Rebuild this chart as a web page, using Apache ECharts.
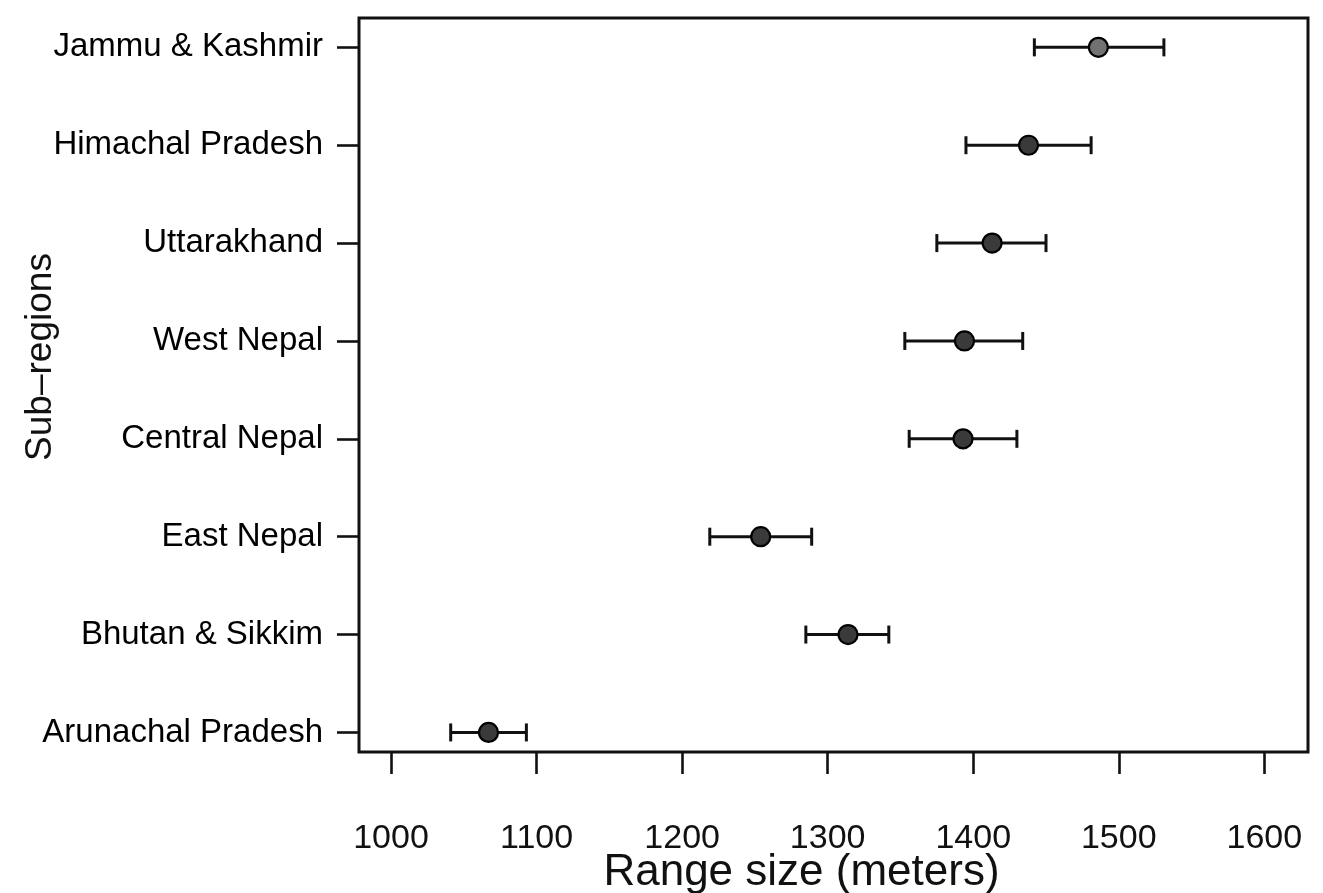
<!DOCTYPE html>
<html>
<head>
<meta charset="utf-8">
<script src="https://cdn.jsdelivr.net/npm/echarts@6/dist/echarts.min.js"></script>
<style>
html,body{margin:0;padding:0;background:#fff;}
#chart{width:1323px;height:893px;}
</style>
</head>
<body>
<div id="chart"></div>
<script>
// Data (bottom to top)
const categories = ['Arunachal Pradesh','Bhutan & Sikkim','East Nepal','Central Nepal','West Nepal','Uttarakhand','Himachal Pradesh','Jammu & Kashmir'];
const means  = [1067, 1314, 1254, 1393, 1394, 1413, 1438, 1486];
const lowers = [1041, 1285, 1219, 1356, 1353, 1375, 1395, 1442];
const uppers = [1093, 1342, 1289, 1430, 1434, 1450, 1481, 1531];
const xTicks = [1000, 1100, 1200, 1300, 1400, 1500, 1600];
const xTitle = 'Range size (meters)';
const yTitle = 'Sub–regions';

const rowPos = categories.map((c, i) => i + 1);
const barData = categories.map((c, i) => [lowers[i], uppers[i], rowPos[i]]);
const dotData = categories.map((c, i) => ({
  value: [means[i], rowPos[i]],
  itemStyle: { color: c === 'Jammu & Kashmir' ? '#727272' : '#3a3a3a' }
}));

const chart = echarts.init(document.getElementById('chart'), null, {renderer: 'canvas'});
const font = 'Liberation Sans, Arial, Helvetica, sans-serif';
chart.setOption({
  animation: false,
  backgroundColor: '#ffffff',
  grid: {
    left: 359, right: 15, top: 18, bottom: 141,
    containLabel: false, outerBoundsMode: 'none',
    show: true, borderColor: '#111', borderWidth: 3, backgroundColor: 'transparent'
  },
  xAxis: {
    type: 'value', min: 978, max: 1630,
    axisLine: { show: false },
    splitLine: { show: false },
    axisTick: { show: true, inside: false, length: 22, customValues: xTicks, lineStyle: { color: '#111', width: 2.6 } },
    axisLabel: { customValues: xTicks, margin: 70, fontSize: 34, color: '#111', fontFamily: font,
      formatter: v => String(v) },
    name: xTitle, nameLocation: 'middle', nameGap: 99, nameMoveOverlap: false,
    nameTextStyle: { fontSize: 44, color: '#111', fontFamily: font, padding: [0, 64, 0, 0] }
  },
  yAxis: {
    type: 'value', min: 0.8, max: 8.3,
    axisLine: { show: false },
    splitLine: { show: false },
    axisTick: { show: true, inside: false, length: 22, customValues: rowPos, lineStyle: { color: '#111', width: 2.6 } },
    axisLabel: {
      customValues: rowPos, margin: 36, fontSize: 33, color: '#000', fontFamily: font,
      formatter: v => categories[Math.round(v) - 1]
    },
    name: yTitle, nameLocation: 'middle', nameGap: 300, nameRotate: 90, nameMoveOverlap: false,
    nameTextStyle: { fontSize: 37, color: '#111', fontFamily: font, padding: [0, 0, 0, 56] }
  },
  series: [
    {
      type: 'custom',
      data: barData,
      encode: { x: [0, 1], y: 2 },
      renderItem: function (params, api) {
        const lo = api.coord([api.value(0), api.value(2)]);
        const hi = api.coord([api.value(1), api.value(2)]);
        const h = 9;
        const st = { stroke: '#111', lineWidth: 3 };
        return {
          type: 'group',
          children: [
            { type: 'line', shape: { x1: lo[0], y1: lo[1], x2: hi[0], y2: hi[1] }, style: st },
            { type: 'line', shape: { x1: lo[0], y1: lo[1] - h, x2: lo[0], y2: lo[1] + h }, style: st },
            { type: 'line', shape: { x1: hi[0], y1: hi[1] - h, x2: hi[0], y2: hi[1] + h }, style: st }
          ]
        };
      },
      z: 2
    },
    {
      type: 'scatter',
      data: dotData,
      symbol: 'circle',
      symbolSize: 19,
      itemStyle: { borderColor: '#000', borderWidth: 2.2, opacity: 1 },
      z: 3
    }
  ]
});
</script>
</body>
</html>
